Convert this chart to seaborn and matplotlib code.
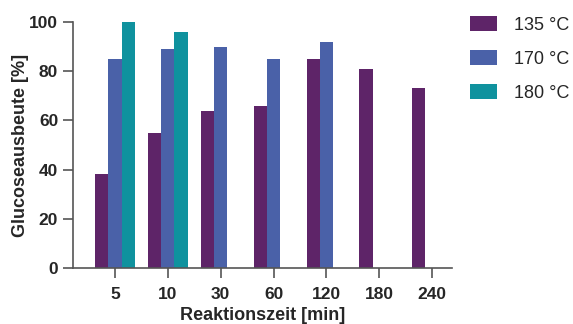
import pandas as pd
import matplotlib.pyplot as plt
import seaborn as sns
import numpy as np

# Daten
zeiten = ["5", "10", "30", "60", "120", "180", "240"]
temperaturen = ["135 °C", "170 °C", "180 °C"]
ausbeute_135 = [38, 55, 64, 66, 85, 81, 73]
ausbeute_170 = [85, 89, 90, 85, 92, np.nan, np.nan]
ausbeute_180 = [100, 96, np.nan, np.nan, np.nan, np.nan, np.nan]

farben = {"135 °C": "#5e2468", "170 °C": "#4a61a8", "180 °C": "#0f929e"}

df = pd.DataFrame({
    "Zeit": zeiten * 3,
    "Temperatur": [t for t in temperaturen for _ in zeiten],
    "Ausbeute": ausbeute_135 + ausbeute_170 + ausbeute_180,
})

sns.set_theme(style="ticks")
plt.rcParams["font.family"] = ["Liberation Sans", "DejaVu Sans"]

fig = plt.figure(figsize=(5.73, 3.24), dpi=100)
ax = fig.add_axes([0.127, 0.173, 0.662, 0.759])

sns.barplot(data=df, x="Zeit", y="Ausbeute", hue="Temperatur", order=zeiten,
            hue_order=temperaturen, palette=farben, width=0.75, saturation=1,
            ax=ax, edgecolor="none", linewidth=0)

ax.set_ylim(0, 100)
ax.set_xlim(-0.8, 6.38)
ax.set_yticks([0, 20, 40, 60, 80, 100])
ax.set_xlabel("Reaktionszeit [min]", fontsize=13, fontweight="bold", labelpad=3)
ax.set_ylabel("Glucoseausbeute [%]", fontsize=13, fontweight="bold", labelpad=0)
ax.tick_params(axis="both", labelsize=12.5, width=1.2, length=7, color="#555555")
ax.tick_params(axis="x", pad=7)
for lbl in ax.get_xticklabels() + ax.get_yticklabels():
    lbl.set_fontweight("bold")

for s in ["left", "bottom"]:
    ax.spines[s].set_color("#555555")
    ax.spines[s].set_linewidth(1.2)
sns.despine(ax=ax)

ax.legend(loc="upper left", bbox_to_anchor=(1.005, 1.09), frameon=False,
          fontsize=13, handlelength=1.5, handleheight=0.9, labelspacing=0.9,
          handletextpad=0.9)

plt.savefig("out.png", dpi=100)
